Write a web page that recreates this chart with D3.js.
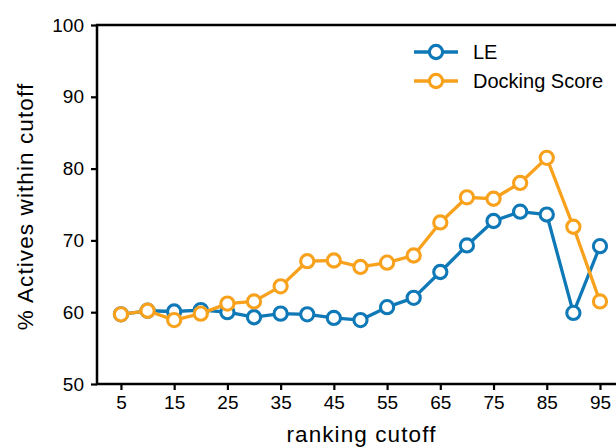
<!DOCTYPE html>
<html>
<head>
<meta charset="utf-8">
<script src="https://cdn.jsdelivr.net/npm/d3@7"></script>
<style>
html,body{margin:0;padding:0;background:#fff;overflow:hidden;}
svg{display:block;font-family:"Liberation Sans",Arial,Helvetica,sans-serif;}
</style>
</head>
<body>
<svg id="chart" width="616" height="448"></svg>
<script>
const cutoffs = [5,10,15,20,25,30,35,40,45,50,55,60,65,70,75,80,85,90,95];
const leValues = [59.7,60.2,60.1,60.3,60.0,59.3,59.8,59.7,59.2,58.9,60.7,62.0,65.6,69.3,72.7,74.0,73.6,59.9,69.2];
const dockValues = [59.7,60.2,58.9,59.8,61.2,61.5,63.6,67.1,67.2,66.3,66.9,67.9,72.5,76.0,75.8,78.0,81.5,71.9,61.5];
const xTicks = [5,15,25,35,45,55,65,75,85,95];
const yTicks = [50,60,70,80,90,100];
const seriesNames = ["LE","Docking Score"];
const seriesColors = ["#0f78b7","#f8a11c"];

const svg = d3.select("#chart");
const x = d3.scaleLinear().domain([0.5,100]).range([97,626.6]);
const y = d3.scaleLinear().domain([50,100]).range([384,25]);

svg.append("rect").attr("x",x(0.5)).attr("y",y(100))
  .attr("width",x(100)-x(0.5)+10).attr("height",y(50)-y(100))
  .attr("fill","none").attr("stroke","#000").attr("stroke-width",2.5);

const yAxis = svg.append("g").attr("transform",`translate(${x(0.5)},0)`)
  .call(d3.axisLeft(y).tickValues(yTicks).tickSize(6).tickPadding(7));
const xAxis = svg.append("g").attr("transform",`translate(0,${y(50)})`)
  .call(d3.axisBottom(x).tickValues(xTicks).tickSize(6).tickPadding(6));
[yAxis,xAxis].forEach(a=>{
  a.select(".domain").remove();
  a.selectAll(".tick line").attr("stroke","#000").attr("stroke-width",2.2);
  a.selectAll(".tick text").attr("fill","#000").style("font-size","19px")
    .style("font-family","'Liberation Sans',Arial,sans-serif");
});

svg.append("text").attr("x",(x(5)+x(95))/2+1).attr("y",442)
  .attr("text-anchor","middle").style("font-size","22.5px").style("letter-spacing","1.1px")
  .attr("fill","#000").text("ranking cutoff");
svg.append("text").attr("transform",`translate(33,${(y(50)+y(100))/2+2}) rotate(-90)`)
  .attr("text-anchor","middle").style("font-size","22.5px").style("letter-spacing","1.1px")
  .attr("fill","#000").text("% Actives within cutoff");

const line = d3.line().x(d=>x(d[0])).y(d=>y(d[1]));
const series = [leValues, dockValues];
series.forEach((vals,i)=>{
  const pts = cutoffs.map((c,j)=>[c,vals[j]]);
  const g = svg.append("g");
  g.append("path").datum(pts).attr("d",line).attr("fill","none")
    .attr("stroke",seriesColors[i]).attr("stroke-width",3.3).attr("stroke-linejoin","round");
  g.selectAll("circle").data(pts).join("circle")
    .attr("cx",d=>x(d[0])).attr("cy",d=>y(d[1])).attr("r",6.6)
    .attr("fill","#fff").attr("stroke",seriesColors[i]).attr("stroke-width",3.1);
});

const legendY = [52,81];
seriesNames.forEach((name,i)=>{
  const g = svg.append("g");
  g.append("line").attr("x1",414).attr("x2",458).attr("y1",legendY[i]).attr("y2",legendY[i])
    .attr("stroke",seriesColors[i]).attr("stroke-width",3.3);
  g.append("circle").attr("cx",436).attr("cy",legendY[i]).attr("r",6.6)
    .attr("fill","#fff").attr("stroke",seriesColors[i]).attr("stroke-width",3.1);
  g.append("text").attr("x",473).attr("y",legendY[i]+7).style("font-size","20px")
    .attr("fill","#000").text(name);
});
</script>
</body>
</html>
